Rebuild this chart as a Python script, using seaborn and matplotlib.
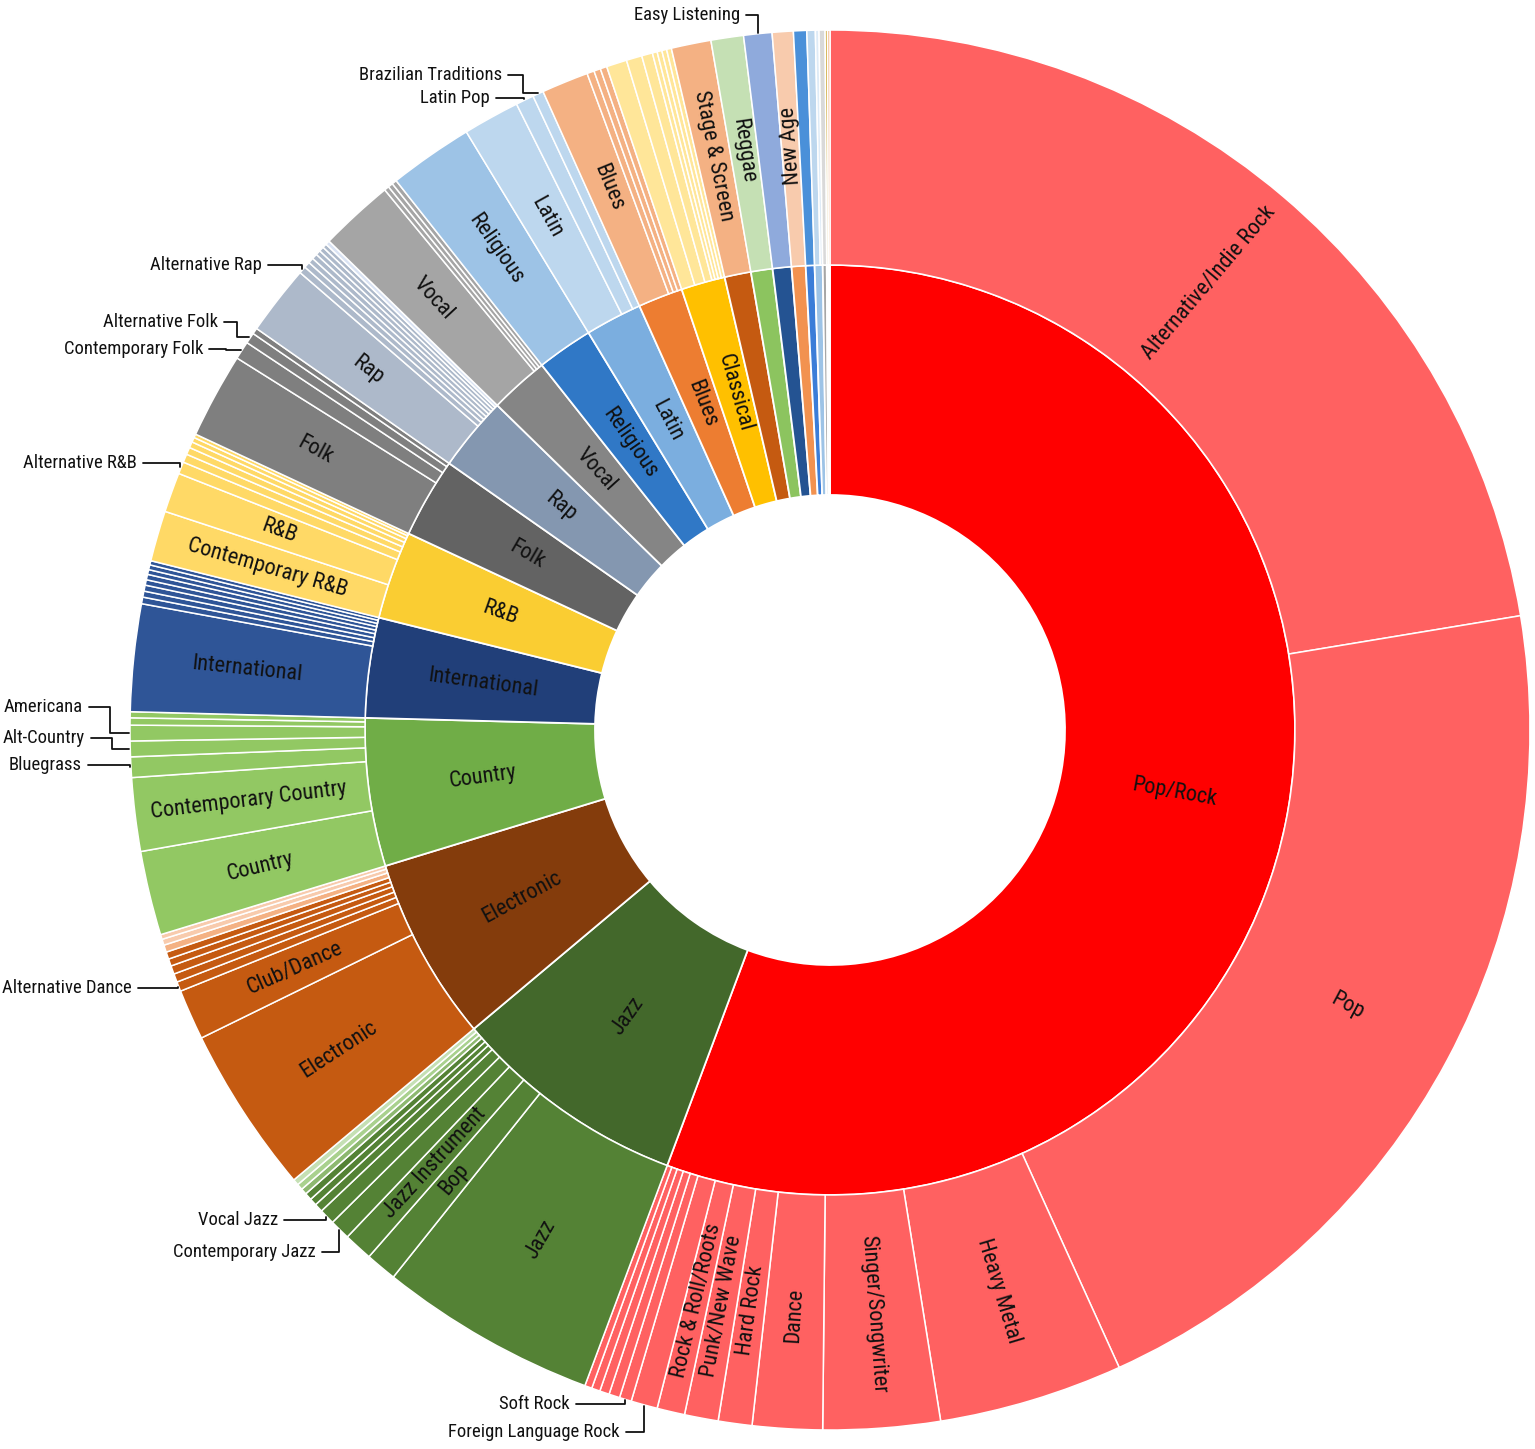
import numpy as np
import matplotlib
matplotlib.use("Agg")
import matplotlib.pyplot as plt
from matplotlib import font_manager as fm
import seaborn as sns

sns.set_theme(style="white")
plt.rcParams['font.family'] = ['Liberation Sans Narrow', 'DejaVu Sans']

# ---------------- data (values are shares, in degrees of the circle) ----------------
parents = ["Pop/Rock", "Jazz", "Electronic", "Country", "International", "R&B", "Folk",
           "Rap", "Vocal", "Religious", "Latin", "Blues", "Classical", "Stage & Screen",
           "Reggae", "Easy Listening", "New Age", "Children's", "Holiday",
           "Comedy/Spoken", "Avant-Garde", "Unknown"]

popr_names = ["Alternative/Indie Rock", "Pop", "Heavy Metal", "Singer/Songwriter", "Dance",
              "Hard Rock", "Punk/New Wave", "Rock & Roll/Roots", "Foreign Language Rock",
              "Soft Rock", "", "", "", ""]
popr_vals = [80.6, 75.0, 15.3, 9.7, 5.8, 2.8, 2.8, 2.3, 2.2, 1.0, 0.9, 0.8, 0.7, 0.6]

jazz_names = ["Jazz", "Bop", "Jazz Instrument", "Contemporary Jazz", "Vocal Jazz", "", "", "", "", "", ""]
jazz_vals = [18.1, 2.6, 2.4, 1.7, 1.3, 0.7, 0.6, 0.6, 0.5, 0.5, 0.5]

elec_names = ["Electronic", "Club/Dance", "Alternative Dance", "", "", "", "", "", "", ""]
elec_vals = [13.9, 4.2, 0.8, 0.7, 0.7, 0.6, 0.6, 0.6, 0.5, 0.4]

country_names = ["Country", "Contemporary Country", "Bluegrass", "Alt-Country", "Americana", "", ""]
country_vals = [7.0, 6.1, 1.7, 1.3, 1.3, 0.6, 0.5]

intl_names = ["International", "", "", "", "", "", "", "", ""]
intl_vals = [8.9, 0.55, 0.5, 0.5, 0.45, 0.45, 0.4, 0.4, 0.35]

rnb_names = ["Contemporary R&B", "R&B", "Alternative R&B", "", "", "", "", ""]
rnb_vals = [4.2, 3.3, 1.0, 0.7, 0.6, 0.5, 0.4, 0.3]

folk_names = ["Folk", "Contemporary Folk", "Alternative Folk", ""]
folk_vals = [7.1, 1.5, 0.9, 0.5]

rap_names = ["Rap", "Alternative Rap", "", "", "", "", "", "", ""]
rap_vals = [5.8, 0.6, 0.5, 0.45, 0.45, 0.4, 0.4, 0.35, 0.35]

vocal_names = ["Vocal", "", "", ""]
vocal_vals = [6.2, 0.4, 0.4, 0.4]

relig_names = ["Religious"]
relig_vals = [7.0]

latin_names = ["Latin", "Latin Pop", "Brazilian Traditions"]
latin_vals = [4.7, 1.5, 0.9]

blues_names = ["Blues", "", "", ""]
blues_vals = [3.9, 0.6, 0.55, 0.55]

classical_names = ["", "", "", "", "", "", ""]
classical_vals = [1.7, 1.3, 0.9, 0.4, 0.4, 0.4, 0.4]

stage_names = ["Stage & Screen"]
stage_vals = [3.3]
reggae_names = ["Reggae"]
reggae_vals = [2.7]
easy_names = ["Easy Listening"]
easy_vals = [2.35]
newage_names = ["New Age"]
newage_vals = [1.75]
children_names = [""]
children_vals = [1.1]
holiday_names = ["", ""]
holiday_vals = [0.7, 0.3]
comedy_names = [""]
comedy_vals = [0.5]
avant_names = [""]
avant_vals = [0.2]
unknown_names = [""]
unknown_vals = [0.2]

child_names = [popr_names, jazz_names, elec_names, country_names, intl_names, rnb_names,
               folk_names, rap_names, vocal_names, relig_names, latin_names, blues_names,
               classical_names, stage_names, reggae_names, easy_names, newage_names,
               children_names, holiday_names, comedy_names, avant_names, unknown_names]
child_vals = [popr_vals, jazz_vals, elec_vals, country_vals, intl_vals, rnb_vals,
              folk_vals, rap_vals, vocal_vals, relig_vals, latin_vals, blues_vals,
              classical_vals, stage_vals, reggae_vals, easy_vals, newage_vals,
              children_vals, holiday_vals, comedy_vals, avant_vals, unknown_vals]

# ---------------- styles ----------------
inner_colors = ["#FF0000", "#43682B", "#843C0C", "#70AD47", "#213F79", "#FACD32", "#636363",
                "#8497B0", "#858585", "#3078C6", "#7BAEDF", "#ED7D31", "#FFC000", "#C55A11",
                "#8CC45F", "#245392", "#F29250", "#3B7DD8", "#9DC3E6", "#A6A6A6",
                "#B8860B", "#ED7D31"]
outer_colors = ["#FF6161", "#548235", "#C55A11", "#92C863", "#2F5597", "#FFD966", "#7F7F7F",
                "#ADB9CA", "#A5A5A5", "#9DC3E6", "#BDD7EE", "#F4B183", "#FFE699", "#F4B183",
                "#C5E0B4", "#8FAADC", "#F8CBAD", "#4A90D9", "#BDD7EE", "#D9D9D9",
                "#C9A227", "#F4B183"]
# a few lighter tints for the thinnest sub-slices (group index -> {child index: colour})
tint_overrides = {
    1: {8: "#8DB870", 9: "#A9D18E", 10: "#C5E0B4"},
    2: {7: "#F4B183", 8: "#F8CBAD", 9: "#F8CBAD"},
    7: {8: "#DAE3F3"},
    18: {1: "#DEEBF7"},
}

inner_labeled = ["Pop/Rock", "Jazz", "Electronic", "Country", "International", "R&B", "Folk",
                 "Rap", "Vocal", "Religious", "Latin", "Blues", "Classical"]
outer_labeled = ["Alternative/Indie Rock", "Pop", "Heavy Metal", "Singer/Songwriter", "Dance",
                 "Hard Rock", "Punk/New Wave", "Rock & Roll/Roots", "Jazz", "Bop",
                 "Jazz Instrument", "Electronic", "Club/Dance", "Country",
                 "Contemporary Country", "International", "Contemporary R&B", "R&B", "Folk",
                 "Rap", "Vocal", "Religious", "Latin", "Blues", "Stage & Screen", "Reggae",
                 "New Age"]
# callouts: name -> (text right x, text y, elbow x or None) in pixel layout coords
callouts = {
    "Easy Listening": (740, 15, None),
    "Brazilian Traditions": (502, 75, 523),
    "Latin Pop": (490, 98, None),
    "Alternative Rap": (262, 265, None),
    "Alternative Folk": (218, 322, 237),
    "Contemporary Folk": (203, 349, 226),
    "Alternative R&B": (137, 463, None),
    "Americana": (83, 707, 110),
    "Alt-Country": (85, 738, 112),
    "Bluegrass": (82, 765, None),
    "Alternative Dance": (132, 988, None),
    "Vocal Jazz": (278, 1220, None),
    "Contemporary Jazz": (316, 1252, None),
    "Soft Rock": (570, 1404, None),
    "Foreign Language Rock": (620, 1432, None),
}

W, H = 1535, 1449
CX, CY = 830, 730
R_HOLE, R_MID, R_OUT = 235, 465, 700


def pick_font():
    entries = fm.fontManager.ttflist

    def regular(e):
        w = e.weight
        okw = (w in (400, "normal", "regular", "book")) if not isinstance(w, int) else w == 400
        bad = any(k in e.fname.lower() for k in ("bold", "italic", "oblique", "light", "thin", "black", "medium", "semi"))
        return e.style == "normal" and okw and not bad

    prefs = ["Liberation Sans Narrow", "Roboto Condensed", "Open Sans Condensed",
             "Noto Sans Condensed", "DejaVu Sans Condensed", "Arial Narrow"]
    for p in prefs:
        for e in entries:
            if e.name == p and regular(e):
                return fm.FontProperties(fname=e.fname)
    for e in entries:
        st = e.stretch
        cond = ("condensed" in st) if isinstance(st, str) else st < 500
        if (cond or "condensed" in e.fname.lower() or "narrow" in e.fname.lower()) \
                and regular(e) and "CJK" not in e.name:
            return fm.FontProperties(fname=e.fname)
    return fm.FontProperties(family="DejaVu Sans")


BASE = pick_font()

fig = plt.figure(figsize=(W / 100, H / 100), dpi=100)
ax = fig.add_axes([0, 0, 1, 1])
renderer = fig.canvas.get_renderer()


def size_for(text, target_px):
    p = BASE.copy()
    p.set_size(10)
    w, _, _ = renderer.get_text_width_height_descent(text, p, ismath=False)
    return 10 * target_px / w


FS_RING = size_for("International", 92) * 1.2
FS_CALL = size_for("Foreign Language Rock", 172)


def prop(size):
    p = BASE.copy()
    p.set_size(size)
    return p


def P(x, y):
    return x, H - y


parent_vals = [sum(v) for v in child_vals]
flat_names = [n for grp in child_names for n in grp]
flat_vals = [v for grp in child_vals for v in grp]
flat_colors = [tint_overrides.get(i, {}).get(j, outer_colors[i])
               for i, grp in enumerate(child_vals) for j in range(len(grp))]

ax.pie(parent_vals, radius=R_MID, center=P(CX, CY), startangle=90, counterclock=False,
       colors=inner_colors,
       wedgeprops=dict(width=R_MID - R_HOLE, edgecolor="white", linewidth=1.3))
ax.pie(flat_vals, radius=R_OUT, center=P(CX, CY), startangle=90, counterclock=False,
       colors=flat_colors,
       wedgeprops=dict(width=R_OUT - R_MID, edgecolor="white", linewidth=1.1))


def rot_for(theta):
    a = 90.0 - theta
    a = (a + 180) % 360 - 180
    if a > 95:
        a -= 180
    elif a < -90:
        a += 180
    return a


def polar(theta, r):
    t = np.deg2rad(theta)
    return CX + r * np.sin(t), CY - r * np.cos(t)


def mids(vals):
    total = sum(flat_vals)
    c = np.cumsum([0] + list(vals))
    return [(c[i] + c[i + 1]) / 2 / total * 360 for i in range(len(vals))]


for name, th in zip(parents, mids(parent_vals)):
    if name in inner_labeled:
        x, y = polar(th, 350)
        ax.text(*P(x, y), name, rotation=rot_for(th), rotation_mode="anchor",
                ha="center", va="center", fontproperties=prop(FS_RING), color="#111111")

call_texts = []
for name, th in zip(flat_names, mids(flat_vals)):
    if name in outer_labeled:
        x, y = polar(th, 586)
        ax.text(*P(x, y), name, rotation=rot_for(th), rotation_mode="anchor",
                ha="center", va="center", fontproperties=prop(FS_RING), color="#111111")
    elif name in callouts:
        tx, ty, ex = callouts[name]
        px, py = polar(th, R_OUT + 1)
        if ex is None:
            ex = px
        xs = [tx + 6, ex, ex, px]
        ys = [ty, ty, py, py]
        ax.plot(*zip(*[P(a, b) for a, b in zip(xs, ys)]), color="#111111", lw=1.3)
        t = ax.text(*P(tx, ty), name, ha="right", va="center",
                    fontproperties=prop(FS_CALL), color="#111111")
        call_texts.append(t)

ax.set_xlim(0, W)
ax.set_ylim(0, H)
ax.set_aspect("equal")
ax.axis("off")

# keep callout texts inside the canvas
fig.canvas.draw()
for t in call_texts:
    for _ in range(20):
        bb = t.get_window_extent(renderer=fig.canvas.get_renderer())
        if bb.x0 >= 2 and bb.y1 <= H - 1:
            break
        t.set_fontsize(t.get_fontsize() * 0.95)

fig.savefig("out.png", dpi=100, facecolor="white")
